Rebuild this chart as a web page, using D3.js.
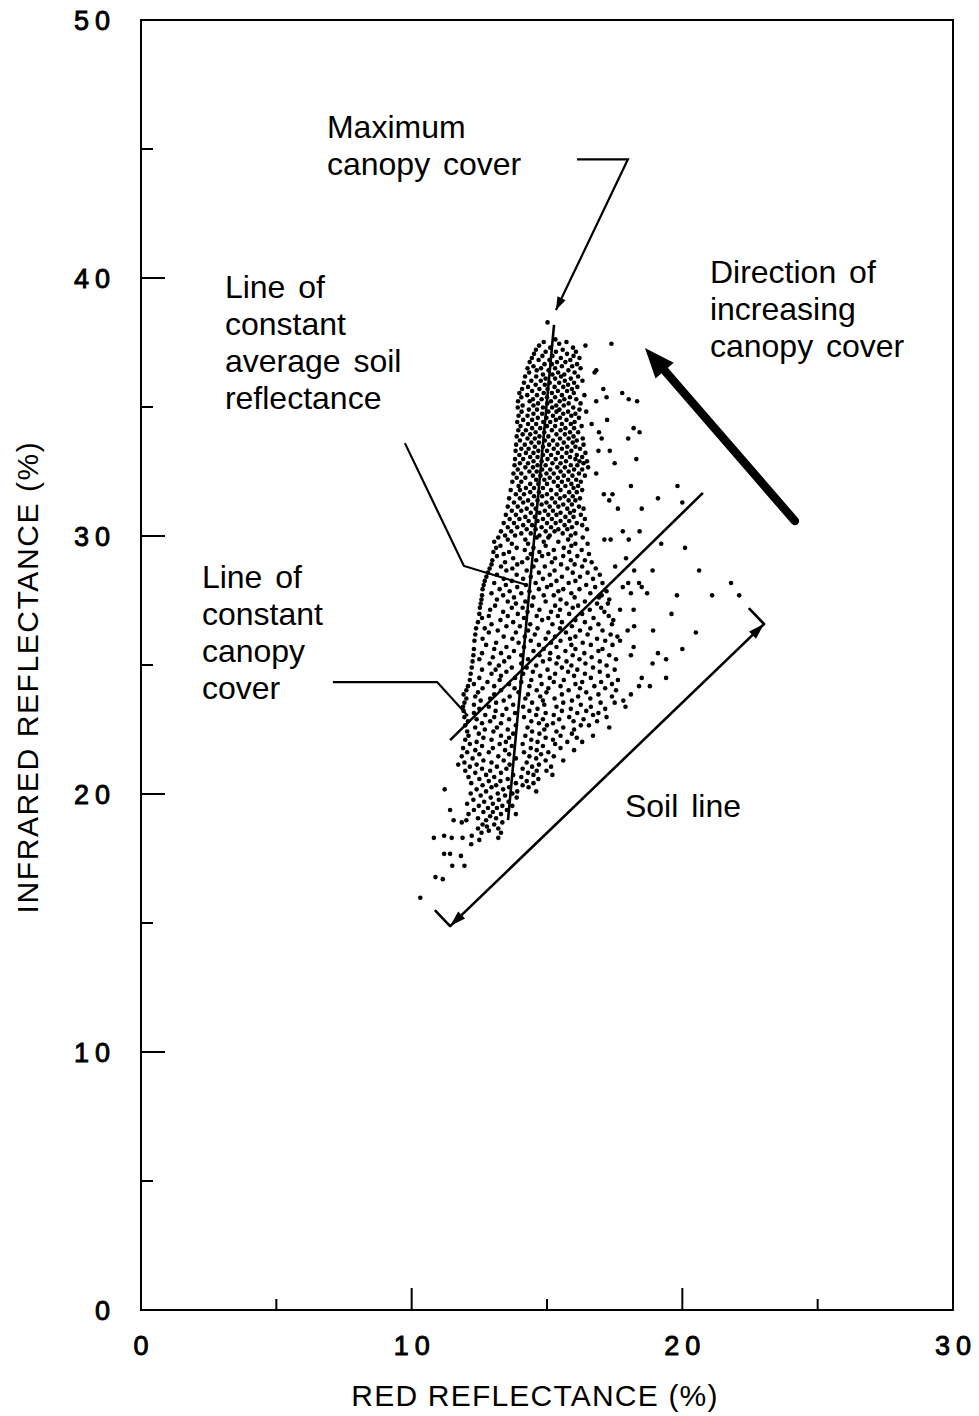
<!DOCTYPE html>
<html>
<head>
<meta charset="utf-8">
<script src="https://cdn.jsdelivr.net/npm/d3@7/dist/d3.min.js"></script>
<style>
  html, body { margin: 0; padding: 0; background: #fff; }
  svg { display: block; }
  text { font-family: "Liberation Sans", Arial, Helvetica, sans-serif; fill: #000; }
</style>
</head>
<body>
<svg id="chart" width="979" height="1416"></svg>
<script>
// Axis domains and tick values
const redDomain = [0, 30];
const irDomain = [0, 50];
const redMajorTicks = [0, 10, 20, 30];
const redMinorTicks = [5, 15, 25];
const irMajorTicks = [0, 10, 20, 30, 40, 50];
const irMinorTicks = [5, 15, 25, 35, 45];

// Pixel reflectances of the canopy-soil scene.
// Each row: [infrared %, red %, red %, ...]

// Upper part of the cloud (dense vegetated pixels)
const cloudUpper = [
  [38.28, 15.02],
  [37.62, 15.31],
  [37.52, 14.88, 15.72],
  [37.45, 17.38, 15.45],
  [37.38, 14.71, 16.42],
  [37.30, 15.12, 15.96],
  [37.22, 14.59, 15.58],
  [37.14, 14.95, 15.33, 16.07],
  [37.06, 14.52, 15.74],
  [36.98, 14.83, 15.2, 15.98],
  [36.90, 14.44, 15.51, 16.2],
  [36.82, 14.69, 15.09, 15.86],
  [36.74, 14.36, 15.37, 15.68],
  [36.66, 14.91, 15.18, 16.11],
  [36.58, 14.5, 15.55, 15.93],
  [36.50, 14.28, 14.78, 15.3, 16.24],
  [36.42, 14.62, 15.06, 15.79, 16.82],
  [36.34, 14.34, 15.41, 16.02, 16.76],
  [36.26, 14.85, 15.2, 15.64],
  [36.18, 14.19, 14.6, 15.52, 16.15],
  [36.10, 14.95, 15.3, 15.88],
  [36.02, 14.42, 14.77, 15.66, 16.31],
  [35.94, 14.15, 15.1, 15.45, 16.0],
  [35.86, 14.58, 14.92, 15.78],
  [35.78, 14.3, 15.28, 15.6, 16.12],
  [35.70, 14.08, 14.72, 15.02, 15.92, 17.08],
  [35.62, 14.45, 15.4, 15.74],
  [35.54, 13.98, 14.88, 15.18, 15.99, 17.78],
  [35.46, 14.27, 14.63, 15.55, 16.38],
  [35.38, 14.05, 15.0, 15.3, 15.85, 17.2],
  [35.30, 14.48, 14.8, 15.64, 16.08, 18.02],
  [35.22, 13.93, 14.36, 15.15, 15.47, 16.82, 18.33],
  [35.14, 14.67, 15.01, 15.8, 16.24],
  [35.06, 14.1, 14.5, 15.34, 15.62],
  [34.98, 13.92, 14.85, 15.19, 15.97],
  [34.90, 14.33, 14.63, 15.46, 16.2],
  [34.82, 14.06, 15.05, 15.35, 15.78, 16.45],
  [34.74, 14.5, 14.82, 15.6, 16.05],
  [34.66, 13.95, 14.28, 15.22, 15.9],
  [34.58, 14.66, 14.98, 15.48, 16.18],
  [34.50, 14.12, 14.45, 15.33, 15.72, 17.22],
  [34.42, 13.9, 14.86, 15.12, 16.02],
  [34.34, 14.3, 14.6, 15.55, 15.88, 16.65],
  [34.26, 14.02, 15.0, 15.3, 16.28],
  [34.18, 14.45, 14.75, 15.68, 16.0, 18.2],
  [34.10, 13.94, 14.22, 15.18, 15.5],
  [34.02, 14.58, 14.9, 15.85, 16.15, 16.92, 18.42],
  [33.94, 14.1, 14.38, 15.35, 15.66],
  [33.86, 13.88, 14.72, 15.05, 15.98],
  [33.78, 14.28, 14.55, 15.48, 15.8, 16.32, 17.02, 18.0],
  [33.70, 14.0, 14.92, 15.22, 16.1],
  [33.62, 14.42, 14.7, 15.62, 15.95],
  [33.54, 13.86, 14.18, 15.08, 15.38, 16.35],
  [33.46, 14.55, 14.85, 15.75, 16.05],
  [33.38, 14.05, 14.32, 15.25, 15.55, 16.22],
  [33.30, 13.84, 14.68, 15.0, 15.9, 16.9, 17.32],
  [33.22, 14.22, 14.5, 15.4, 15.72, 16.42],
  [33.14, 13.98, 14.85, 15.15, 16.1],
  [33.06, 14.38, 14.65, 15.55, 15.85, 16.3],
  [32.98, 13.82, 14.12, 15.02, 15.32, 16.05, 18.3],
  [32.90, 14.5, 14.8, 15.7, 16.2, 16.48],
  [32.82, 14.0, 14.3, 15.2, 15.5, 16.35, 17.5],
  [32.74, 13.8, 14.65, 14.95, 15.88, 16.12],
  [32.66, 14.2, 14.48, 15.38, 15.66, 16.52],
  [32.58, 13.92, 14.82, 15.12, 16.0, 16.3],
  [32.50, 14.35, 14.62, 15.5, 15.8],
  [32.42, 13.76, 14.05, 14.98, 15.25, 16.18, 16.82],
  [32.34, 14.48, 14.76, 15.62, 15.94, 16.4],
  [32.26, 13.88, 14.2, 15.1, 15.4],
  [32.18, 14.6, 14.9, 15.78, 16.08],
  [32.10, 13.72, 14.05, 15.25, 15.55, 16.25],
  [32.02, 14.38, 14.68, 15.0, 15.9],
  [31.94, 13.95, 15.4, 15.68, 16.15, 18.1, 19.82],
  [31.86, 14.22, 14.52, 14.85, 15.98],
  [31.78, 13.66, 14.0, 15.15, 15.5, 16.3],
  [31.70, 14.38, 14.7, 15.82, 16.1],
  [31.62, 13.85, 14.15, 15.0, 15.35, 17.1, 17.42],
  [31.54, 14.52, 14.82, 15.65, 15.95],
  [31.46, 13.6, 14.0, 15.18, 15.48, 16.22, 19.1],
  [31.38, 14.3, 14.65, 15.8, 16.05, 17.3],
  [31.30, 13.78, 14.12, 14.98, 15.3, 20.0],
  [31.22, 14.45, 14.8, 15.6, 15.92],
  [31.14, 13.55, 13.92, 15.1, 15.42, 16.18],
  [31.06, 14.25, 14.58, 15.75, 16.35, 17.62, 18.5],
  [30.98, 13.7, 14.05, 14.92, 15.22, 16.0],
  [30.90, 14.4, 14.72, 15.5, 15.85],
  [30.82, 13.48, 13.85, 15.05, 15.35, 16.25],
  [30.74, 14.2, 14.55, 15.68, 15.98],
  [30.66, 13.62, 13.98, 14.85, 15.18, 16.4],
  [30.58, 14.32, 14.65, 15.5, 15.82],
  [30.50, 13.4, 13.78, 15.0, 15.32, 16.1],
  [30.42, 14.12, 14.45, 15.65, 16.3],
  [30.34, 13.55, 13.9, 14.8, 15.15, 15.92],
  [30.26, 14.25, 14.58, 15.42, 15.75, 16.48],
  [30.18, 13.3, 13.68, 14.95, 15.28, 17.8, 18.42],
  [30.10, 14.05, 14.4, 15.58, 16.05],
  [30.02, 13.45, 13.82, 14.72, 15.1, 15.88]
];

// Middle part of the cloud (partial canopy)
const cloudMiddle = [
  [29.94, 13.2, 14.62, 15.05, 16.32],
  [29.86, 13.55, 14.2, 15.78, 17.12, 17.35, 18.02],
  [29.78, 13.05, 14.88, 15.42],
  [29.70, 13.7, 14.3, 16.05, 16.5, 19.22],
  [29.62, 13.28, 14.95, 15.9],
  [29.54, 13.12, 13.88, 14.5, 15.62, 20.1],
  [29.46, 14.18, 15.25, 16.28],
  [29.38, 13.02, 13.6, 14.72, 15.82],
  [29.30, 13.4, 14.4, 15.05, 16.55],
  [29.22, 13.15, 14.82, 15.6, 16.12],
  [29.14, 13.75, 14.28, 15.3, 17.92],
  [29.06, 12.98, 14.6, 15.88, 16.4],
  [28.98, 13.45, 14.08, 15.18, 16.65],
  [28.90, 12.95, 13.9, 15.52, 16.02],
  [28.82, 13.3, 14.5, 14.92, 16.3, 17.52],
  [28.74, 12.88, 13.72, 15.75, 16.8],
  [28.66, 13.5, 14.25, 15.28, 18.22, 18.9, 20.62],
  [28.58, 12.82, 14.7, 15.95, 16.5],
  [28.50, 13.15, 13.88, 15.1, 16.95],
  [28.42, 12.76, 14.4, 15.55, 16.22],
  [28.34, 13.4, 14.12, 14.85, 16.7],
  [28.26, 12.7, 13.7, 15.35, 16.05],
  [28.18, 13.05, 14.58, 15.8, 17.05, 18.0, 18.4, 21.8],
  [28.10, 12.66, 13.48, 14.22, 15.15, 16.45],
  [28.02, 13.9, 15.0, 16.78, 17.8, 18.5],
  [27.94, 12.62, 13.25, 14.7, 15.6, 16.2],
  [27.86, 13.62, 14.35, 15.42, 17.2],
  [27.78, 12.95, 14.05, 15.9, 16.6, 18.1, 18.7],
  [27.70, 12.6, 13.38, 14.88, 15.25, 17.02, 19.8, 21.1, 22.1],
  [27.62, 13.78, 14.5, 16.02, 16.92],
  [27.54, 12.58, 13.15, 15.5, 17.3],
  [27.46, 13.55, 14.2, 14.95, 16.4],
  [27.38, 12.55, 13.85, 15.72, 16.85, 17.25],
  [27.30, 13.08, 14.45, 15.3, 16.15],
  [27.22, 12.52, 13.7, 14.1, 15.95, 17.0],
  [27.14, 12.9, 14.72, 15.48, 16.58, 17.7, 18.2],
  [27.06, 13.38, 14.28, 15.15, 17.12],
  [26.98, 12.5, 13.92, 15.82, 16.3, 19.6],
  [26.90, 12.85, 13.55, 14.62, 15.4, 17.28],
  [26.82, 12.6, 14.15, 15.05, 16.72],
  [26.74, 13.28, 14.82, 16.05, 17.45],
  [26.66, 12.45, 13.75, 15.55, 16.4],
  [26.58, 12.95, 14.38, 15.2, 16.9, 17.4],
  [26.50, 13.5, 14.0, 15.92, 18.22],
  [26.42, 12.38, 12.7, 14.65, 15.48, 16.6],
  [26.34, 13.18, 14.3, 16.22, 17.05, 17.98, 18.92],
  [26.26, 12.85, 13.85, 15.05, 15.7, 20.5],
  [26.18, 12.35, 14.55, 16.5, 17.35],
  [26.10, 13.4, 14.18, 15.3, 16.05, 17.6],
  [26.02, 12.62, 13.72, 14.95, 15.85, 16.85],
  [25.94, 12.32, 14.4, 15.5, 17.15, 17.7],
  [25.86, 13.12, 13.95, 15.15, 16.32],
  [25.78, 12.75, 14.7, 15.9, 16.62, 17.42],
  [25.70, 13.5, 14.15, 15.35, 18.2],
  [25.62, 12.3, 13.05, 14.88, 16.05, 17.05, 20.0],
  [25.54, 13.78, 14.5, 15.68, 16.9],
  [25.46, 12.6, 13.3, 15.12, 16.38, 19.1],
  [25.38, 12.28, 14.05, 14.72, 15.95, 17.3, 18.1],
  [25.30, 13.0, 13.6, 15.42, 16.65],
  [25.22, 12.5, 14.3, 15.1, 16.2, 17.55, 19.4],
  [25.14, 12.25, 13.42, 14.85, 15.72, 16.95],
  [25.06, 12.88, 14.05, 15.35, 16.42, 18.9],
  [24.98, 13.22, 14.6, 15.9, 17.2],
  [24.90, 12.22, 13.7, 14.25, 15.55, 16.7],
  [24.82, 12.6, 13.1, 15.02, 16.12, 17.5],
  [24.74, 13.5, 14.48, 15.78, 16.95],
  [24.66, 12.18, 12.95, 14.12, 15.3, 16.4],
  [24.58, 13.3, 14.75, 16.0, 17.25],
  [24.50, 12.5, 13.82, 15.1, 16.62, 18.5, 19.4],
  [24.42, 12.15, 13.25, 14.42, 15.62, 17.62],
  [24.34, 12.8, 14.05, 15.25, 16.3, 17.0],
  [24.26, 12.3, 13.6, 14.8, 16.05, 17.4],
  [24.18, 12.08, 13.05, 14.35, 15.5, 16.75, 18.4, 18.8],
  [24.10, 12.62, 13.8, 15.05, 16.22, 17.15],
  [24.02, 12.02, 13.3, 14.62, 15.8, 17.55],
  [23.94, 12.45, 13.95, 14.98, 16.45],
  [23.86, 11.92, 13.05, 14.3, 15.55, 16.9, 18.1],
  [23.78, 12.35, 13.62, 14.75, 16.15, 17.4],
  [23.70, 12.02, 12.9, 14.2, 15.28, 16.6],
  [23.62, 12.55, 13.4, 14.85, 15.92, 17.82],
  [23.54, 11.95, 13.12, 14.45, 15.6, 16.98, 17.5],
  [23.46, 12.3, 13.75, 14.9, 16.25],
  [23.38, 11.9, 12.85, 14.12, 15.35, 16.62, 17.9],
  [23.30, 12.5, 13.5, 14.65, 15.88, 17.15],
  [23.22, 11.92, 13.1, 14.35, 15.55, 16.45],
  [23.14, 12.3, 13.82, 14.95, 16.12, 16.9],
  [23.06, 12.72, 13.35, 14.6, 15.25, 16.7],
  [22.98, 11.95, 13.05, 14.15, 15.82, 17.2],
  [22.90, 12.4, 13.6, 14.85, 15.45, 16.35],
  [22.82, 12.08, 12.9, 14.42, 15.98, 16.85],
  [22.74, 12.6, 13.3, 14.7, 15.22],
  [22.66, 11.98, 13.85, 15.0, 16.25, 16.55],
  [22.58, 12.35, 13.15, 14.28, 15.6, 17.3],
  [22.50, 12.7, 13.55, 14.9, 16.0],
  [22.42, 12.05, 13.02, 14.45, 15.35],
  [22.34, 12.48, 13.75, 14.72, 15.92],
  [22.26, 12.1, 13.3, 14.2, 15.5, 16.7],
  [22.18, 12.65, 13.6, 14.95, 16.1],
  [22.10, 11.98, 12.95, 14.42, 15.22],
  [22.02, 12.4, 13.48, 14.65, 15.75, 16.3]
];

// Lower part of the cloud (sparse canopy, mostly soil)
const cloudLower = [
  [21.94, 12.15, 13.25, 14.1, 15.3],
  [21.86, 12.6, 13.7, 14.85],
  [21.78, 11.9, 13.0, 14.4, 15.5],
  [21.70, 12.35, 13.45, 14.62, 16.0],
  [21.62, 12.05, 12.85, 14.15, 15.05],
  [21.54, 12.5, 13.6, 14.78],
  [21.46, 11.85, 13.2, 14.35, 15.25],
  [21.38, 12.25, 13.85, 14.6],
  [21.30, 12.65, 13.4, 14.95, 15.6],
  [21.22, 11.95, 12.95, 14.25],
  [21.14, 11.72, 12.4, 13.62, 14.7],
  [21.06, 12.15, 13.15, 14.45, 15.15],
  [20.98, 12.6, 13.5, 14.1],
  [20.90, 11.98, 12.9, 14.62, 14.98],
  [20.82, 12.35, 13.3, 14.3],
  [20.74, 12.75, 13.75, 14.5, 15.2],
  [20.66, 12.1, 13.05, 14.05],
  [20.58, 12.5, 13.55, 14.68],
  [20.50, 12.85, 13.28, 14.25],
  [20.42, 12.2, 13.85, 14.5],
  [20.34, 12.62, 13.12, 14.1],
  [20.26, 12.95, 13.6, 14.32],
  [20.18, 11.22, 12.4, 13.38],
  [20.10, 12.75, 13.9, 14.6],
  [20.02, 12.18, 13.18, 13.72],
  [19.94, 12.55, 13.45],
  [19.86, 12.92, 13.88],
  [19.78, 12.28, 13.22],
  [19.70, 12.68, 13.58],
  [19.62, 12.05, 13.0],
  [19.54, 12.48, 13.35, 13.72],
  [19.46, 12.82, 13.15],
  [19.38, 11.42, 12.3, 13.52],
  [19.30, 12.65, 13.0],
  [19.22, 12.1, 13.3, 13.85],
  [19.14, 12.9],
  [19.06, 12.45, 13.12],
  [18.98, 11.55, 12.02, 12.75],
  [18.90, 11.85, 13.35],
  [18.82, 12.62, 13.05],
  [18.74, 12.78],
  [18.66, 12.45, 13.2],
  [18.58, 12.85],
  [18.50, 13.3, 12.58],
  [18.38, 11.2, 12.22],
  [18.30, 10.82, 11.48, 11.88, 13.2],
  [18.22, 12.5],
  [18.05, 12.2],
  [17.68, 11.2, 11.42],
  [17.60, 11.82],
  [17.22, 11.5, 11.95],
  [16.78, 10.88],
  [16.70, 11.15],
  [15.98, 10.32]
];

// Reference lines drawn over the scatter, in reflectance units
const canopyLine = [[11.42, 22.09], [20.76, 31.67]];
const soilReflLine = [[13.56, 18.99], [15.26, 38.18]];
const soilLine = [[11.42, 14.88], [23.02, 26.59]];
const directionArrow = [[24.16, 30.58], [18.62, 37.29]];

// Callouts: text lines and their leader lines
const callouts = [
  { lines: ["Maximum", "canopy cover"], x: 6.87, y: 45.43,
    leader: [[16.11, 44.60], [17.99, 44.60], [15.33, 38.76]], head: true },
  { lines: ["Direction of", "increasing", "canopy cover"], x: 21.02, y: 39.81, leader: null },
  { lines: ["Line of", "constant", "average soil", "reflectance"], x: 3.10, y: 39.22,
    leader: [[9.75, 33.60], [11.93, 28.84], [14.26, 28.10]], head: false },
  { lines: ["Line of", "constant", "canopy", "cover"], x: 2.25, y: 27.98,
    leader: [[7.09, 24.34], [10.94, 24.34], [12.08, 23.02]], head: false },
  { lines: ["Soil line"], x: 17.88, y: 19.11, leader: null }
];

const W = 979, H = 1416;
const margin = { top: 20, right: 26, bottom: 106, left: 141 };
const svg = d3.select("#chart");

const x = d3.scaleLinear().domain(redDomain).range([margin.left, W - margin.right]);
const y = d3.scaleLinear().domain(irDomain).range([H - margin.bottom, margin.top]);

// Frame
svg.append("rect")
  .attr("x", x(0)).attr("y", y(50))
  .attr("width", x(30) - x(0)).attr("height", y(0) - y(50))
  .attr("fill", "none").attr("stroke", "#000").attr("stroke-width", 2);

// Inward tick marks
const ticks = svg.append("g").attr("stroke", "#000").attr("stroke-width", 2);
irMajorTicks.filter(v => v > 0 && v < 50).forEach(v =>
  ticks.append("line").attr("x1", x(0)).attr("x2", x(0) + 24).attr("y1", y(v)).attr("y2", y(v)));
irMinorTicks.forEach(v =>
  ticks.append("line").attr("x1", x(0)).attr("x2", x(0) + 12).attr("y1", y(v)).attr("y2", y(v)));
redMajorTicks.filter(v => v > 0 && v < 30).forEach(v =>
  ticks.append("line").attr("x1", x(v)).attr("x2", x(v)).attr("y1", y(0)).attr("y2", y(0) - 22));
redMinorTicks.forEach(v =>
  ticks.append("line").attr("x1", x(v)).attr("x2", x(v)).attr("y1", y(0)).attr("y2", y(0) - 11));

// Tick labels
const tickFont = { size: 27, spacing: 6 };
svg.append("g").selectAll("text").data(irMajorTicks).join("text")
  .attr("x", x(0) - 31 + tickFont.spacing).attr("y", d => y(d))
  .attr("dy", "0.36em").attr("text-anchor", "end")
  .attr("font-size", tickFont.size).attr("letter-spacing", tickFont.spacing)
  .attr("stroke", "#000").attr("stroke-width", 0.9)
  .text(d => d);
svg.append("g").selectAll("text").data(redMajorTicks).join("text")
  .attr("x", d => x(d) + tickFont.spacing / 2).attr("y", y(0) + 45)
  .attr("text-anchor", "middle")
  .attr("font-size", tickFont.size).attr("letter-spacing", tickFont.spacing)
  .attr("stroke", "#000").attr("stroke-width", 0.9)
  .text(d => d);

// Axis titles
svg.append("text")
  .attr("x", (x(0) + x(30)) / 2 - 12).attr("y", H - 10)
  .attr("text-anchor", "middle").attr("font-size", 30).attr("letter-spacing", 1.2)
  .text("RED REFLECTANCE (%)");
svg.append("text")
  .attr("transform", `translate(38, ${y(25) + 12}) rotate(-90)`)
  .attr("text-anchor", "middle").attr("font-size", 30).attr("letter-spacing", 1.6)
  .text("INFRARED REFLECTANCE (%)");

// Scatter
const points = [...cloudUpper, ...cloudMiddle, ...cloudLower]
  .flatMap(([ir, ...reds]) => reds.map(r => ({ red: r, ir })));
svg.append("g").selectAll("circle").data(points).join("circle")
  .attr("cx", d => x(d.red)).attr("cy", d => y(d.ir)).attr("r", 2.3)
  .attr("fill", "#000");

// Filled arrowhead at the end of a segment (screen coordinates)
function arrowHead(g, from, to, len, half) {
  const dx = to[0] - from[0], dy = to[1] - from[1];
  const L = Math.hypot(dx, dy), ux = dx / L, uy = dy / L;
  const bx = to[0] - ux * len, by = to[1] - uy * len;
  g.append("path")
    .attr("d", `M${to[0]},${to[1]}L${bx - uy * half},${by + ux * half}L${bx + uy * half},${by - ux * half}Z`)
    .attr("fill", "#000");
}
const line = d3.line().x(d => x(d[0])).y(d => y(d[1]));
const marks = svg.append("g");

// Lines of constant canopy cover and constant average soil reflectance
marks.append("path").attr("d", line(canopyLine))
  .attr("fill", "none").attr("stroke", "#000").attr("stroke-width", 2.6);
marks.append("path").attr("d", line(soilReflLine))
  .attr("fill", "none").attr("stroke", "#000").attr("stroke-width", 2.6);

// Soil line with arrowheads at both ends
{
  const p0 = [x(soilLine[0][0]), y(soilLine[0][1])];
  const p1 = [x(soilLine[1][0]), y(soilLine[1][1])];
  marks.append("path").attr("d", line(soilLine))
    .attr("fill", "none").attr("stroke", "#000").attr("stroke-width", 2.6);
  arrowHead(marks, p1, p0, 16, 5);
  arrowHead(marks, p0, p1, 16, 5);
  const dx = p1[0] - p0[0], dy = p1[1] - p0[1];
  const L = Math.hypot(dx, dy);
  // normal pointing to the upper-left side of the line
  const nx = dy / L, ny = -dx / L;
  [p0, p1].forEach(p => {
    marks.append("line")
      .attr("x1", p[0]).attr("y1", p[1])
      .attr("x2", p[0] + nx * 21).attr("y2", p[1] + ny * 21)
      .attr("stroke", "#000").attr("stroke-width", 2.6).attr("stroke-linecap", "round");
  });
}

// Direction of increasing canopy cover
{
  const a = [x(directionArrow[0][0]), y(directionArrow[0][1])];
  const b = [x(directionArrow[1][0]), y(directionArrow[1][1])];
  const dx = b[0] - a[0], dy = b[1] - a[1];
  const L = Math.hypot(dx, dy);
  const stop = [b[0] - dx / L * 20, b[1] - dy / L * 20];
  marks.append("line")
    .attr("x1", a[0]).attr("y1", a[1]).attr("x2", stop[0]).attr("y2", stop[1])
    .attr("stroke", "#000").attr("stroke-width", 8.5).attr("stroke-linecap", "round");
  arrowHead(marks, a, b, 30, 12);
}

// Callout texts and leaders
callouts.forEach(c => {
  const t = svg.append("text").attr("font-size", 32).attr("word-spacing", 4);
  c.lines.forEach((s, i) => {
    t.append("tspan").attr("x", x(c.x)).attr("y", y(c.y) + i * 36.8).text(s);
  });
  if (c.leader) {
    marks.append("path").attr("d", line(c.leader))
      .attr("fill", "none").attr("stroke", "#000").attr("stroke-width", 2.2)
      .attr("stroke-linejoin", "miter");
    if (c.head) {
      const n = c.leader.length;
      const from = [x(c.leader[n - 2][0]), y(c.leader[n - 2][1])];
      const to = [x(c.leader[n - 1][0]), y(c.leader[n - 1][1])];
      arrowHead(marks, from, to, 13, 4.5);
    }
  }
});
</script>
</body>
</html>
